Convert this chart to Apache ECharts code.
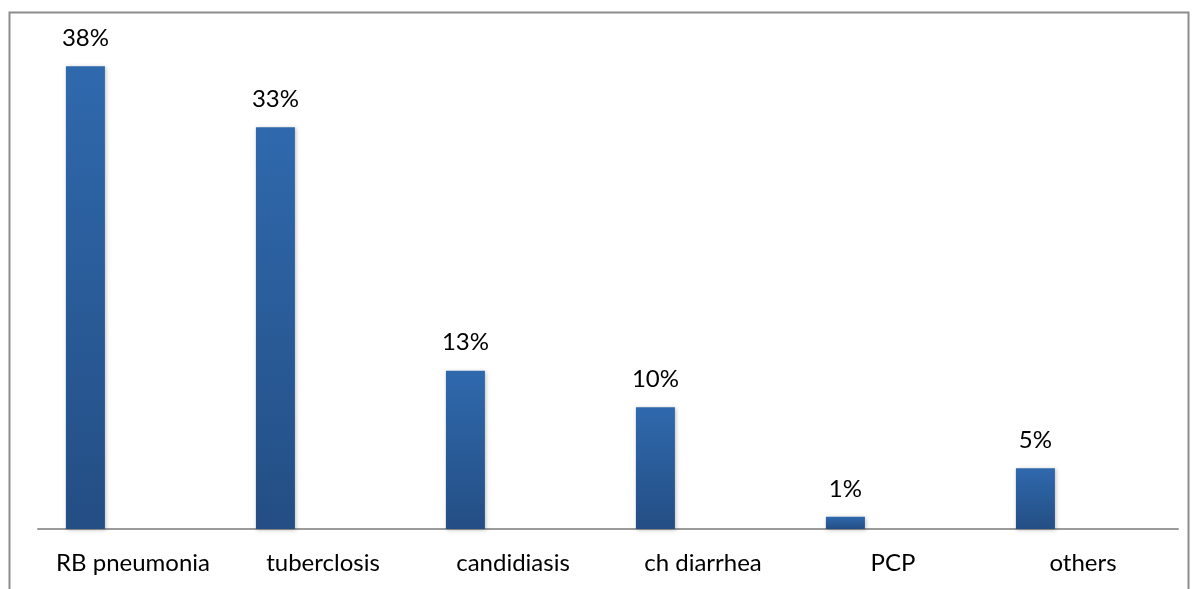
<!DOCTYPE html>
<html>
<head>
<meta charset="utf-8">
<script src="https://cdn.jsdelivr.net/npm/echarts@6/dist/echarts.min.js"></script>
<style>
  html, body { margin: 0; padding: 0; background: #fff; }
  #main { width: 1194px; height: 589px; }
</style>
</head>
<body>
<div id="main"></div>
<script>
var categories = ['RB pneumonia', 'tuberclosis', 'candidiasis', 'ch diarrhea', 'PCP', 'others'];
var values = [38, 33, 13, 10, 1, 5];
// excel leaves an empty second series, which pushes the bars to the left
var emptySeries = [null, null, null, null, null, null];

var chart = echarts.init(document.getElementById('main'));

var barColor = new echarts.graphic.LinearGradient(0, 0, 0, 1, [
  { offset: 0, color: '#2f69ad' },
  { offset: 1, color: '#244e84' }
]);

chart.setOption({
  animation: false,
  textStyle: { fontFamily: 'Lato' },
  graphic: [{
    type: 'rect',
    shape: { x: 9.5, y: 12.5, width: 1179, height: 600 },
    style: { fill: 'none', stroke: '#8c8c8c', lineWidth: 2 },
    silent: true
  }],
  grid: { left: 38, right: 16, top: 42, bottom: 60 },
  xAxis: {
    type: 'category',
    data: categories,
    axisLine: { lineStyle: { color: '#9a9a9a', width: 2 } },
    axisTick: { show: false },
    axisLabel: { color: '#000', fontSize: 24, margin: 22, interval: 0 }
  },
  yAxis: {
    type: 'value',
    min: 0,
    max: 40,
    show: false
  },
  series: [{
    type: 'bar',
    data: values,
    barWidth: 39,
    barGap: '144%',
    itemStyle: {
      color: barColor,
      shadowColor: 'rgba(0,0,0,0.25)',
      shadowBlur: 4,
      shadowOffsetX: 1,
      shadowOffsetY: 1
    },
    label: {
      show: true,
      position: 'top',
      distance: 16,
      color: '#000',
      fontSize: 24,
      formatter: '{c}%'
    }
  }, {
    type: 'bar',
    data: emptySeries,
    barWidth: 39
  }]
});
</script>
</body>
</html>
